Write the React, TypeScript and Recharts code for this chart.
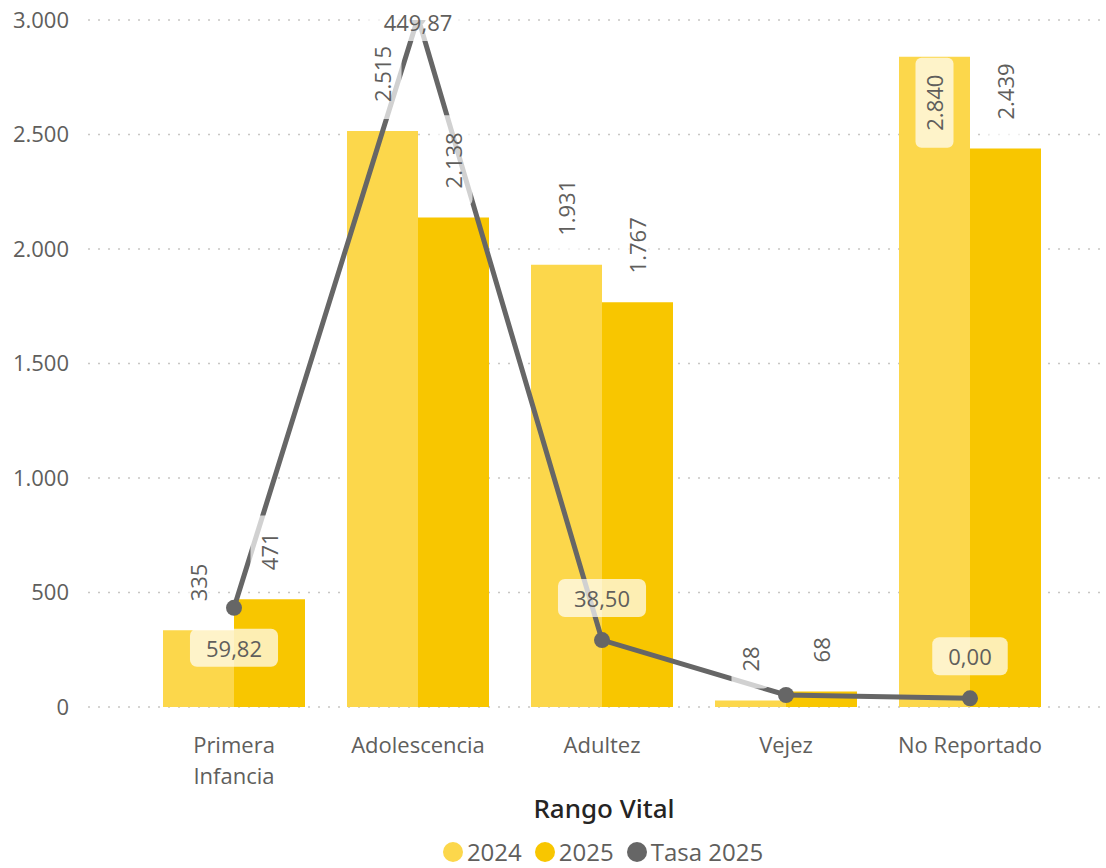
import React from 'react';
import { ComposedChart, Bar, Line, XAxis, YAxis, CartesianGrid, LabelList, Legend } from 'recharts';

const categories = ['Primera Infancia', 'Adolescencia', 'Adultez', 'Vejez', 'No Reportado'];
const values2024 = [335, 2515, 1931, 28, 2840];
const values2025 = [471, 2138, 1767, 68, 2439];
const tasa2025 = [59.82, 449.87, 38.5, 2.2, 0];
const yTicks = [0, 500, 1000, 1500, 2000, 2500, 3000];
const seriesNames = ['2024', '2025', 'Tasa 2025'];
// where the rate label sits relative to its point
const tasaLabelPos = ['below', 'above', 'above', 'none', 'above'];

const data = categories.map((name, i) => ({
  name,
  y2024: values2024[i],
  y2025: values2025[i],
  tasa: tasa2025[i],
}));

const FONT = "'Segoe UI', 'Open Sans', sans-serif";
const C2024 = '#FCD74B';
const C2025 = '#F8C600';
const CLINE = '#666666';
const TEXT = '#605E5C';
const PLOT_TOP = 20;
const PAD_L = 54;
const PAD_R = 38;

const fmtInt = (v: number) => String(Math.round(v)).replace(/\B(?=(\d{3})+(?!\d))/g, '.');
const fmtDec = (v: number) => v.toFixed(2).replace('.', ',');
const textWidth = (s: string, size: number) =>
  s.split('').reduce((w, ch) => w + (ch === '.' || ch === ',' ? 0.26 : 0.572) * size, 0);

function BarValueLabel(props: any) {
  const vb = props.viewBox ?? {};
  const x = Number(props.x ?? vb.x);
  const y = Number(props.y ?? vb.y);
  const w = Number(props.width ?? vb.width);
  const text = fmtInt(Number(props.value));
  const len = textWidth(text, 22);
  const cx = x + w / 2;
  const outside = y - 29 - len >= PLOT_TOP;
  const cy = outside ? y - 29 - len / 2 : y + 18 + len / 2;
  return (
    <g>
      <rect x={cx - 19} y={cy - len / 2 - 17} width={38} height={len + 34} rx={6} fill="#fff" fillOpacity={0.7} />
      <text
        x={cx}
        y={cy}
        transform={`rotate(-90 ${cx} ${cy})`}
        textAnchor="middle"
        dominantBaseline="central"
        fontFamily={FONT}
        fontSize={22}
        fill={TEXT}
      >
        {text}
      </text>
    </g>
  );
}

function TasaLabel(props: any) {
  const pos = tasaLabelPos[props.index];
  if (pos === 'none') return null;
  const vb = props.viewBox ?? {};
  const x = Number(props.x ?? vb.x);
  const y = Number(props.y ?? vb.y);
  const text = fmtDec(Number(props.value));
  const w = textWidth(text, 22) + 32;
  let cy = pos === 'below' ? y + 40 : y - 42;
  cy = Math.max(cy, PLOT_TOP + 2);
  return (
    <g>
      <rect x={x - w / 2} y={cy - 19} width={w} height={38} rx={7} fill="#fff" fillOpacity={0.7} />
      <text x={x} y={cy} textAnchor="middle" dominantBaseline="central" fontFamily={FONT} fontSize={22} fill={TEXT}>
        {text}
      </text>
    </g>
  );
}

function CategoryTick(props: any) {
  const { x, y, payload } = props;
  const label: string = payload.value;
  const lines = label.length > 14 ? label.split(' ') : [label];
  return (
    <text x={x} y={y + 46} textAnchor="middle" fontFamily={FONT} fontSize={22} fill={TEXT}>
      {lines.map((l, i) => (
        <tspan key={i} x={x} dy={i === 0 ? 0 : 31}>
          {l}
        </tspan>
      ))}
    </text>
  );
}

function AxisTitle(props: any) {
  const vb = props.viewBox ?? {};
  const cx = vb.x + PAD_L + (vb.width - PAD_L - PAD_R) / 2;
  return (
    <text x={cx + 2} y={vb.y + 111} textAnchor="middle" fontFamily="'Noto Sans', sans-serif" fontSize={26} fontWeight={500} fill="#252423">
      Rango Vital
    </text>
  );
}

function LegendContent() {
  const colors = [C2024, C2025, CLINE];
  return (
    <div
      style={{
        width: 1106,
        height: 28,
        boxSizing: 'border-box',
        paddingLeft: 100,
        display: 'flex',
        justifyContent: 'center',
        alignItems: 'center',
        fontFamily: FONT,
        fontSize: 24,
        lineHeight: '28px',
        color: TEXT,
      }}
    >
      {seriesNames.map((n, i) => (
        <span key={n} style={{ display: 'flex', alignItems: 'center', marginRight: i < 2 ? 13 : 0 }}>
          <span style={{ width: 20, height: 20, borderRadius: 10, background: colors[i], marginRight: 4 }} />
          {n}
        </span>
      ))}
    </div>
  );
}

export default function App() {
  return (
    <div style={{ position: 'absolute', left: 0, top: 0, background: '#fff' }}>
      <ComposedChart
        width={1106}
        height={868}
        data={data}
        margin={{ top: 20, right: 6, left: 0, bottom: 0 }}
        barCategoryGap={21}
        barGap={0}
      >
        <CartesianGrid vertical={false} stroke="#C8C6C4" strokeWidth={1.5} strokeDasharray="2 8" />
        <XAxis
          dataKey="name"
          axisLine={false}
          tickLine={false}
          tickSize={0}
          tickMargin={0}
          height={131}
          padding={{ left: PAD_L, right: PAD_R }}
          tick={<CategoryTick />}
          interval={0}
          label={<AxisTitle />}
        />
        <YAxis
          width={88}
          domain={[0, 3000]}
          ticks={yTicks}
          axisLine={false}
          tickLine={false}
          tickSize={0}
          tickMargin={19}
          tickFormatter={fmtInt}
          tick={{ fontFamily: FONT, fontSize: 22, fill: TEXT }}
        />
        <YAxis yAxisId="rate" orientation="right" hide domain={[-5.75, 448.3]} allowDataOverflow />
        <Legend verticalAlign="bottom" height={30} content={<LegendContent />} wrapperStyle={{ left: 0, bottom: 0 }} />
        <Bar dataKey="y2024" name="2024" fill={C2024} isAnimationActive={false}>
          <LabelList dataKey="y2024" content={<BarValueLabel />} />
        </Bar>
        <Bar dataKey="y2025" name="2025" fill={C2025} isAnimationActive={false}>
          <LabelList dataKey="y2025" content={<BarValueLabel />} />
        </Bar>
        <Line
          yAxisId="rate"
          dataKey="tasa"
          name="Tasa 2025"
          type="linear"
          stroke={CLINE}
          strokeWidth={5}
          dot={{ r: 8, fill: CLINE, stroke: 'none' }}
          activeDot={false}
          isAnimationActive={false}
        >
          <LabelList dataKey="tasa" content={<TasaLabel />} />
        </Line>
      </ComposedChart>
    </div>
  );
}
